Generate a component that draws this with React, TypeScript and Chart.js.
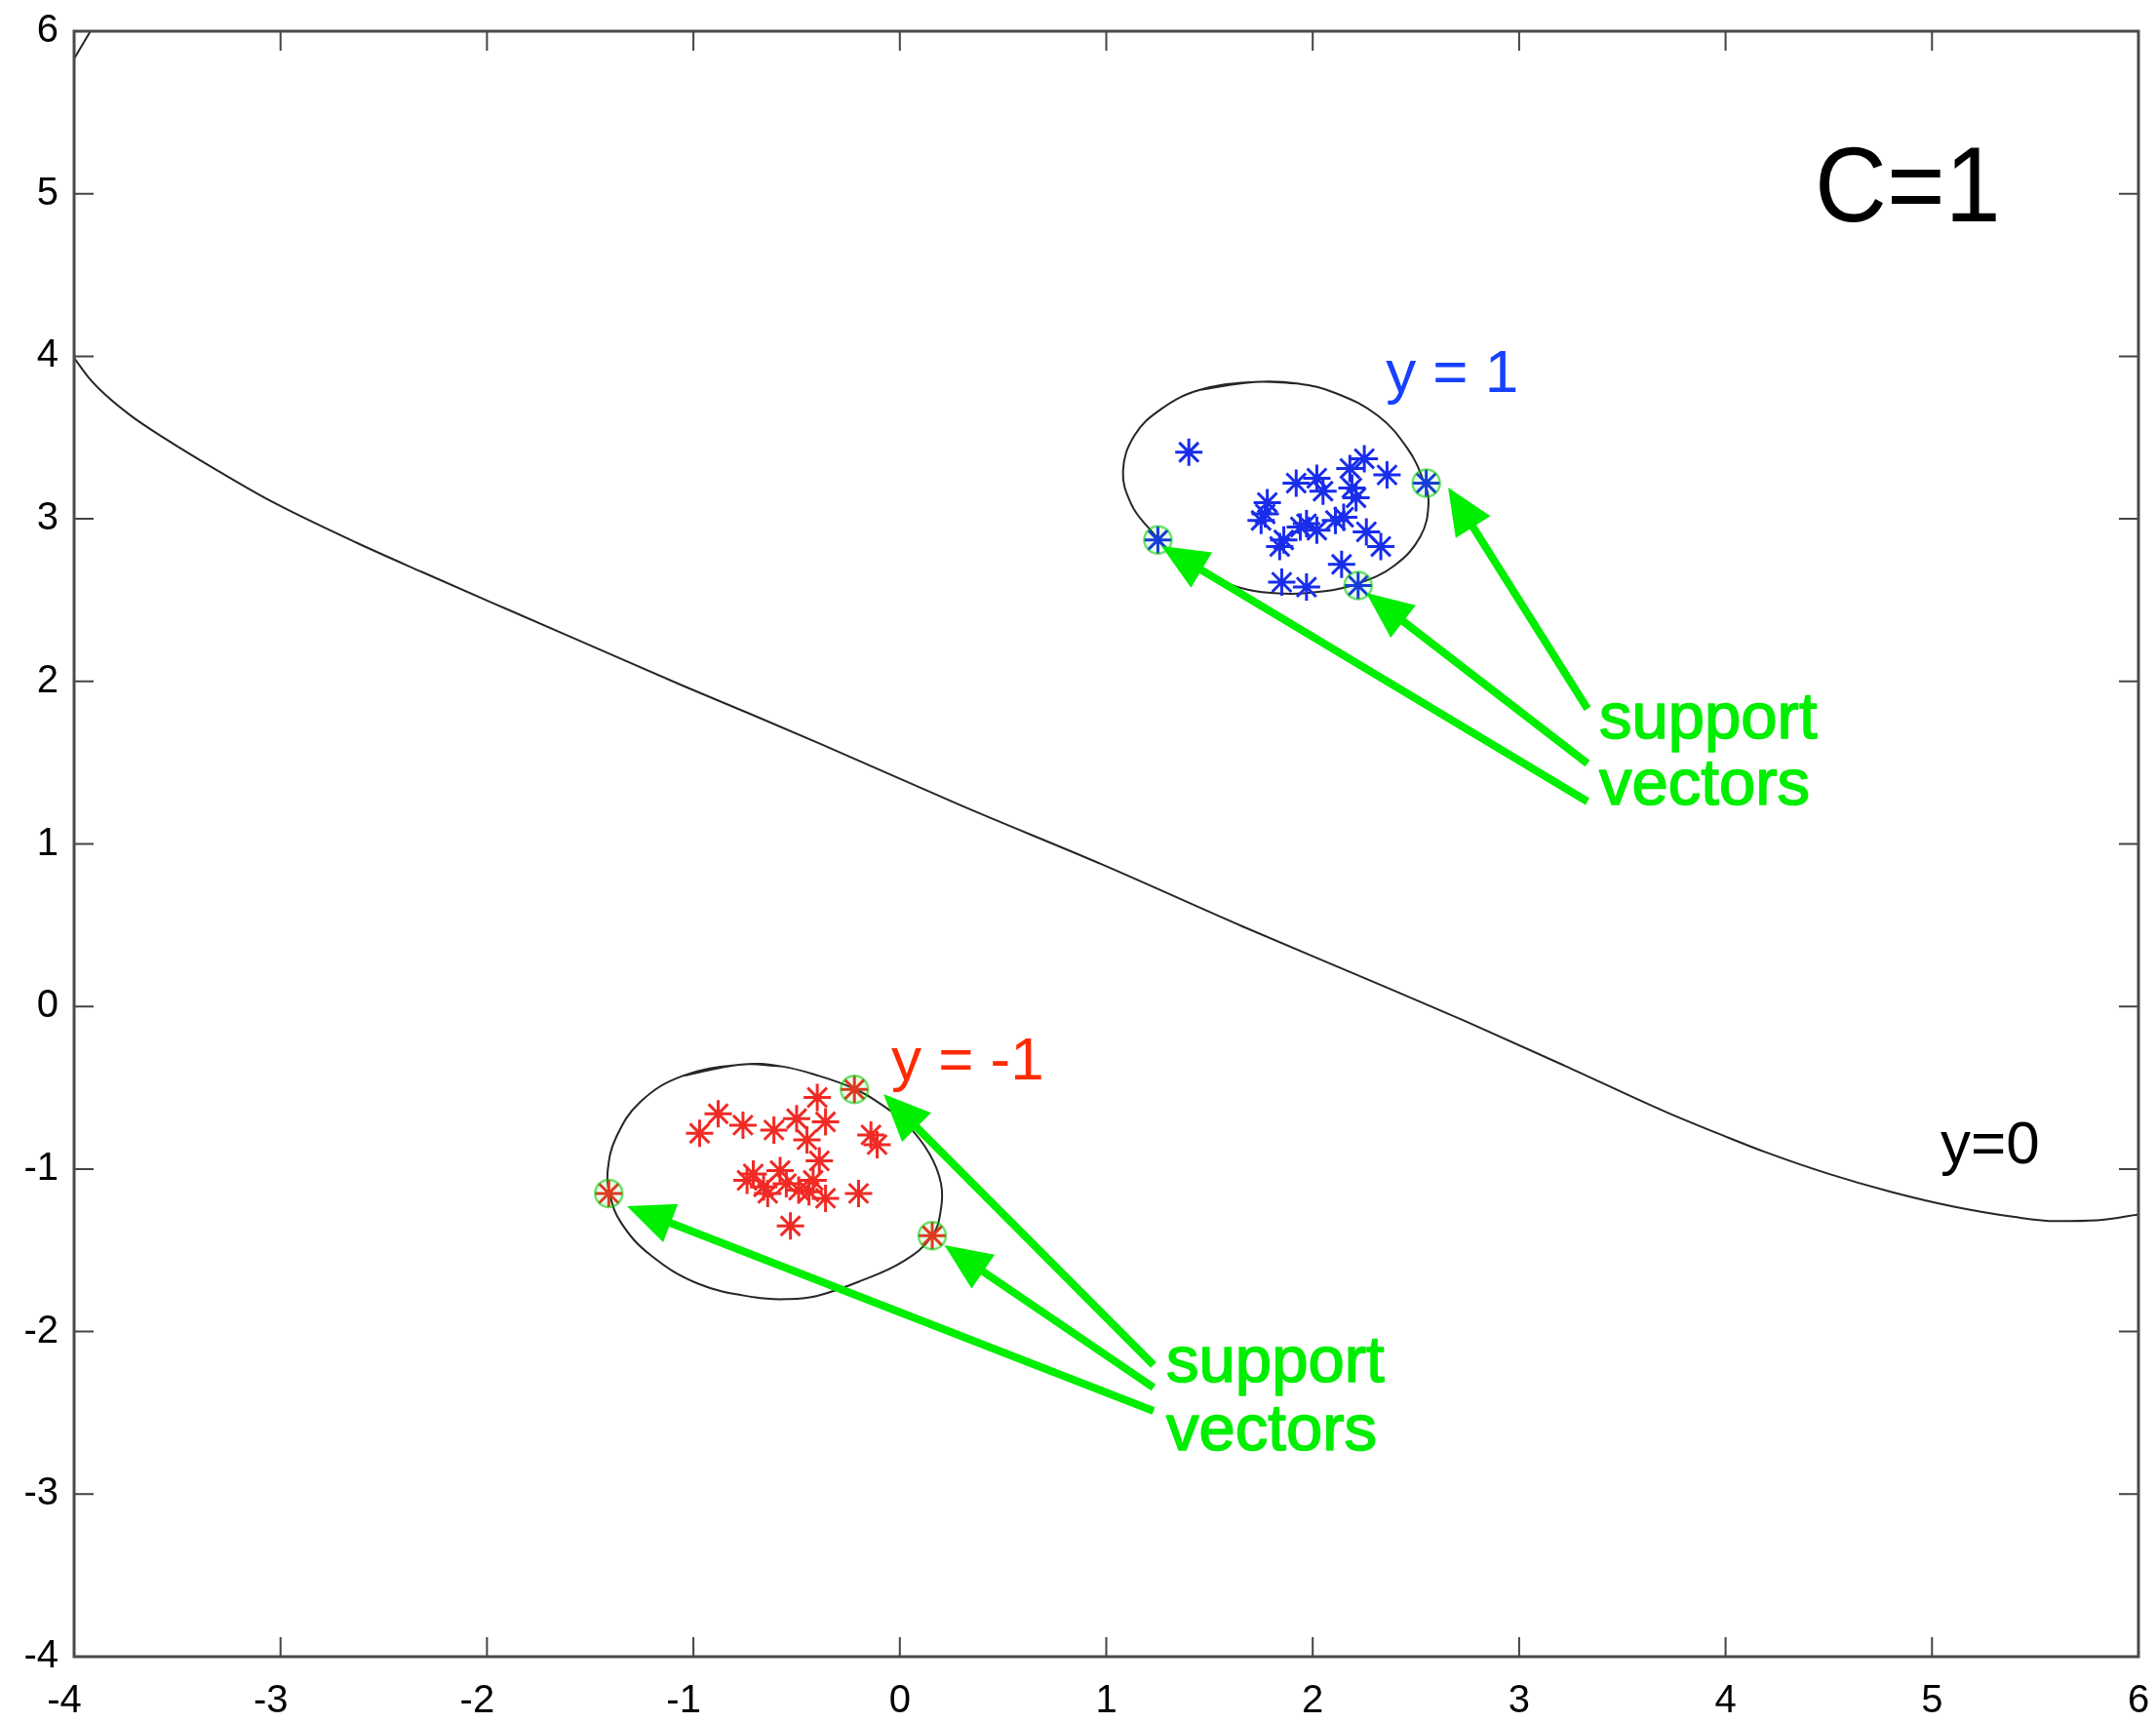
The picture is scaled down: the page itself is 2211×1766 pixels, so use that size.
import { useEffect, useRef } from 'react';
import { Chart, registerables } from 'chart.js';

Chart.register(...registerables);

// ---- data ----
const blueX = [1.40, 1.25, 2.55, 2.22, 2.25, 2.36, 2.18, 2.19, 2.21, 2.02, 1.92, 2.05, 1.78, 1.77, 1.75, 1.97, 2.02, 2.11, 2.15, 2.26, 2.33, 1.86, 1.84, 2.14, 1.85, 1.97, 1.94];
const blueY = [3.41, 2.87, 3.22, 2.59, 3.37, 3.27, 3.31, 3.19, 3.13, 3.25, 3.22, 3.17, 3.10, 3.03, 2.99, 2.97, 2.93, 2.99, 3.01, 2.92, 2.83, 2.87, 2.83, 2.72, 2.61, 2.58, 2.95];

const redX = [-0.22, -1.41, 0.157, -0.88, -0.97, -0.76, -0.61, -0.50, -0.40, -0.36, -0.45, -0.14, -0.11, -0.39, -0.71, -0.66, -0.58, -0.55, -0.42, -0.44, -0.36, -0.20, -0.53, -0.74, -0.64, -0.49];
const redY = [-0.51, -1.15, -1.41, -0.66, -0.78, -0.73, -0.76, -0.69, -0.56, -0.71, -0.82, -0.79, -0.85, -0.95, -1.03, -1.11, -1.01, -1.09, -1.07, -1.14, -1.18, -1.15, -1.35, -1.07, -1.15, -1.13];

const svX = [1.25, 2.55, 2.22, -0.22, -1.41, 0.157];
const svY = [2.87, 3.22, 2.59, -0.51, -1.15, -1.41];

const curveX = [-4, -3.93, -3.85, -3.72, -3.557, -3.325, -3.051, -2.63, -2.313, -1.892, -1.47, -1.048, -0.693, -0.374, 0.303, 0.981, 1.659, 2.254, 2.738, 3.222, 3.708, 4.0, 4.191, 4.5, 4.8, 5.1, 5.4, 5.6, 5.8, 6.0];
const curveY = [3.99, 3.87, 3.765, 3.63, 3.492, 3.312, 3.112, 2.852, 2.672, 2.438, 2.205, 1.972, 1.783, 1.61, 1.233, 0.873, 0.493, 0.173, -0.09, -0.365, -0.647, -0.80, -0.895, -1.03, -1.14, -1.23, -1.295, -1.32, -1.315, -1.28];

const cornerX = [-4, -3.921];
const cornerY = [5.83, 6];

const ellBX = [1.719, 1.451, 1.262, 1.136, 1.081, 1.120, 1.199, 1.372, 1.608, 1.813, 2.049, 2.222, 2.396, 2.522, 2.561, 2.537, 2.459, 2.317, 2.112, 1.924];
const ellBY = [3.842, 3.792, 3.672, 3.512, 3.293, 3.093, 2.953, 2.733, 2.593, 2.543, 2.553, 2.603, 2.713, 2.893, 3.093, 3.233, 3.433, 3.633, 3.773, 3.833];

const ellRX = [-0.769, -1.052, -1.257, -1.375, -1.415, -1.407, -1.352, -1.210, -0.974, -0.70, -0.54, -0.40, -0.187, 0.018, 0.157, 0.199, 0.199, 0.144, 0.034, -0.108, -0.218, -0.391, -0.580];
const ellRY = [-0.357, -0.427, -0.587, -0.807, -1.007, -1.147, -1.327, -1.527, -1.707, -1.79, -1.80, -1.78, -1.687, -1.567, -1.411, -1.247, -1.087, -0.907, -0.727, -0.587, -0.507, -0.427, -0.367];

// arrows: tail (text side) -> head (support vector)
const arrowTailX = [3.331, 3.331, 3.331, 1.229, 1.229, 1.229];
const arrowTailY = [1.831, 1.495, 1.261, -2.206, -2.344, -2.488];
const arrowHeadX = [2.656, 2.259, 1.267, -0.079, 0.216, -1.322];
const arrowHeadY = [3.193, 2.545, 2.833, -0.539, -1.469, -1.228];

const labelTexts = ['C=1', 'y = 1', 'y = -1', 'y=0', 'support', 'vectors', 'support', 'vectors'];
const labelX = [4.432, 2.354, -0.042, 5.041, 3.388, 3.388, 1.291, 1.291];
const labelY = [4.83, 3.78, -0.449, -0.965, 1.651, 1.243, -2.308, -2.728];
const labelColors = ['#000000', '#1740ff', '#ff2a00', '#000000', '#00ee00', '#00ee00', '#00ee00', '#00ee00'];
const labelSizes = [110, 62, 62, 62, 67, 67, 67, 67];
const labelWidthScale = [0.93, 1, 1, 1, 1, 1, 1, 1];
const labelStroke = [0, 0, 0, 0, 1.6, 1.6, 1.6, 1.6];

const pts = (xs: number[], ys: number[]) => xs.map((x, i) => ({ x, y: ys[i] }));
// closed curve: pad with neighbours so the spline has no corner where it closes
const loop = (xs: number[], ys: number[]) => {
  const n = xs.length;
  const idx = [n - 1, ...xs.map((_, i) => i), 0, 1];
  return idx.map((i) => ({ x: xs[i], y: ys[i] }));
};

const FONT = '"Liberation Sans", Arial, Helvetica, sans-serif';

const overlay = {
  id: 'overlay',
  afterDatasetsDraw(chart: any) {
    const { ctx, chartArea: a, scales } = chart;
    const xs = scales.x;
    const ys = scales.y;
    ctx.save();
    // ticks inside on all four sides
    ctx.strokeStyle = '#444';
    ctx.lineWidth = 2;
    const tl = 20;
    ctx.beginPath();
    for (const t of xs.ticks) {
      const px = xs.getPixelForValue(t.value);
      ctx.moveTo(px, a.bottom); ctx.lineTo(px, a.bottom - tl);
      ctx.moveTo(px, a.top); ctx.lineTo(px, a.top + tl);
    }
    for (const t of ys.ticks) {
      const py = ys.getPixelForValue(t.value);
      ctx.moveTo(a.left, py); ctx.lineTo(a.left + tl, py);
      ctx.moveTo(a.right, py); ctx.lineTo(a.right - tl, py);
    }
    ctx.stroke();
    // frame
    ctx.strokeStyle = '#4a4a4a';
    ctx.lineWidth = 3;
    ctx.strokeRect(a.left, a.top, a.right - a.left, a.bottom - a.top);

    // arrows
    const green = '#00ee00';
    ctx.strokeStyle = green;
    ctx.fillStyle = green;
    ctx.lineWidth = 8;
    ctx.lineCap = 'butt';
    for (let i = 0; i < arrowTailX.length; i++) {
      const x0 = xs.getPixelForValue(arrowTailX[i]);
      const y0 = ys.getPixelForValue(arrowTailY[i]);
      const x1 = xs.getPixelForValue(arrowHeadX[i]);
      const y1 = ys.getPixelForValue(arrowHeadY[i]);
      const ang = Math.atan2(y1 - y0, x1 - x0);
      const hl = 48, hw = 21;
      const bx = x1 - hl * Math.cos(ang);
      const by = y1 - hl * Math.sin(ang);
      ctx.beginPath();
      ctx.moveTo(x0, y0);
      ctx.lineTo(bx + 2 * Math.cos(ang), by + 2 * Math.sin(ang));
      ctx.stroke();
      ctx.beginPath();
      ctx.moveTo(x1, y1);
      ctx.lineTo(bx + hw * Math.sin(ang), by - hw * Math.cos(ang));
      ctx.lineTo(bx - hw * Math.sin(ang), by + hw * Math.cos(ang));
      ctx.closePath();
      ctx.fill();
    }

    // texts
    ctx.textAlign = 'left';
    ctx.textBaseline = 'alphabetic';
    ctx.lineJoin = 'round';
    for (let i = 0; i < labelTexts.length; i++) {
      ctx.save();
      ctx.font = `${labelSizes[i]}px ${FONT}`;
      ctx.fillStyle = labelColors[i];
      const px = xs.getPixelForValue(labelX[i]);
      const py = ys.getPixelForValue(labelY[i]);
      ctx.translate(px, py);
      ctx.scale(labelWidthScale[i], 1);
      ctx.fillText(labelTexts[i], 0, 0);
      if (labelStroke[i] > 0) {
        ctx.strokeStyle = labelColors[i];
        ctx.lineWidth = labelStroke[i];
        ctx.strokeText(labelTexts[i], 0, 0);
      }
      ctx.restore();
    }
    ctx.restore();
  },
};

export default function App() {
  const ref = useRef<HTMLCanvasElement>(null);
  useEffect(() => {
    document.body.style.margin = '0';
    const lineColor = '#262626';
    const chart = new Chart(ref.current!, {
      type: 'scatter',
      data: {
        datasets: [
          {
            data: pts(svX, svY),
            pointStyle: 'circle',
            pointRadius: 14,
            borderWidth: 2.5,
            borderColor: 'rgba(0,200,0,0.55)',
            backgroundColor: 'rgba(0,255,0,0.08)',
          },
          {
            data: pts(blueX, blueY),
            pointStyle: 'star',
            pointRadius: 14,
            borderWidth: 3,
            borderColor: 'rgb(25,45,235)',
            backgroundColor: 'rgb(25,45,235)',
          },
          {
            data: pts(redX, redY),
            pointStyle: 'star',
            pointRadius: 14,
            borderWidth: 3,
            borderColor: 'rgb(240,42,36)',
            backgroundColor: 'rgb(240,42,36)',
          },
          {
            data: loop(ellBX, ellBY),
            showLine: true,
            pointRadius: 0,
            borderColor: lineColor,
            borderWidth: 2,
            tension: 0.4,
          },
          {
            data: loop(ellRX, ellRY),
            showLine: true,
            pointRadius: 0,
            borderColor: lineColor,
            borderWidth: 2,
            tension: 0.4,
          },
          {
            data: pts(curveX, curveY),
            showLine: true,
            pointRadius: 0,
            borderColor: lineColor,
            borderWidth: 2,
            cubicInterpolationMode: 'monotone',
          },
          {
            data: pts(cornerX, cornerY),
            showLine: true,
            pointRadius: 0,
            borderColor: lineColor,
            borderWidth: 2,
          },
        ],
      },
      options: {
        responsive: false,
        animation: false,
        events: [],
        layout: { padding: { top: 32, right: 18, left: 0, bottom: 0 } },
        plugins: { legend: { display: false }, tooltip: { enabled: false } },
        scales: {
          x: {
            type: 'linear',
            min: -4,
            max: 6,
            ticks: {
              stepSize: 1,
              color: '#000',
              font: { size: 40, family: FONT },
              padding: 0,
              maxRotation: 0,
              autoSkip: false,
              callback: (v: any) => (Number(v) < 0 ? `${v}\u2002` : `${v}`),
            },
            grid: { display: true, color: 'rgba(0,0,0,0)', drawOnChartArea: false, drawTicks: true, tickLength: 22 },
            border: { display: false },
            afterFit: (s: any) => { s.height = 67; },
          },
          y: {
            type: 'linear',
            min: -4,
            max: 6,
            ticks: { stepSize: 1, color: '#000', font: { size: 40, family: FONT }, padding: 0, autoSkip: false },
            grid: { display: true, color: 'rgba(0,0,0,0)', drawOnChartArea: false, drawTicks: true, tickLength: 16 },
            border: { display: false },
            afterFit: (s: any) => { s.width = 76; },
          },
        },
      },
      plugins: [overlay],
    } as any);
    return () => chart.destroy();
  }, []);
  return (
    <div style={{ width: 2211, height: 1766, background: '#fff' }}>
      <canvas ref={ref} width={2211} height={1766} style={{ display: 'block' }} />
    </div>
  );
}
